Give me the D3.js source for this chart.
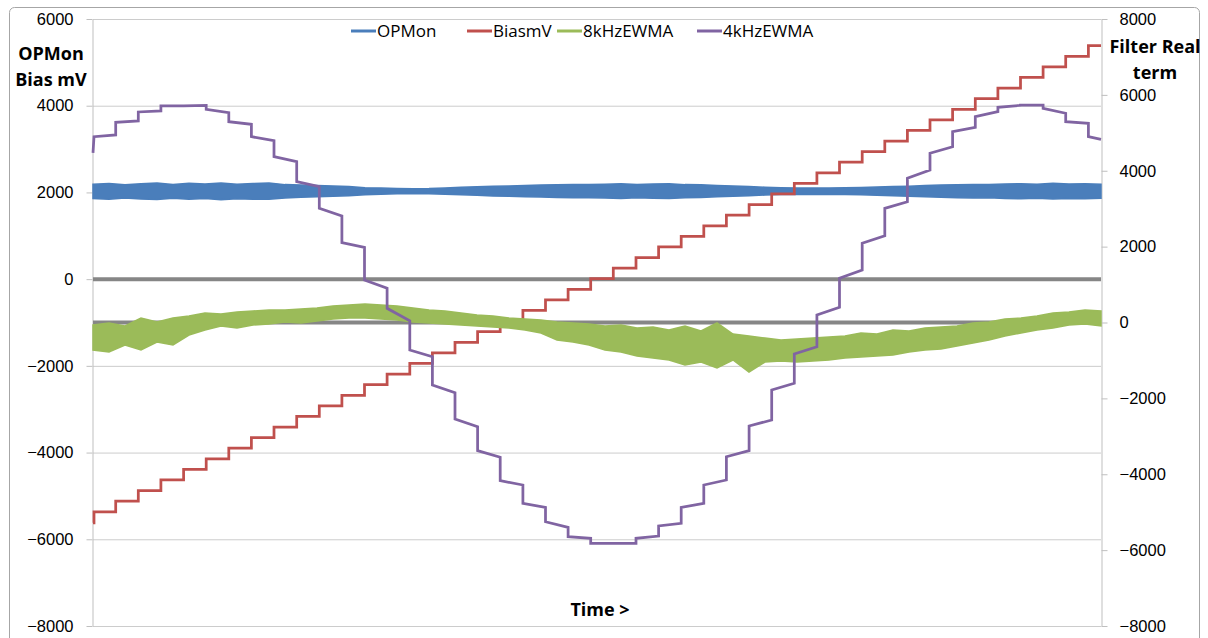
<!DOCTYPE html>
<html>
<head>
<meta charset="utf-8">
<script src="https://cdn.jsdelivr.net/npm/d3@7"></script>
<style>
  body { margin: 0; background: #fff; }
  svg { font-family: 'Open Sans', 'Liberation Sans', sans-serif; }
  .axis text { font-size: 16.5px; fill: #000; }
  .axis path { stroke: #bfbfbf; }
  .axis line { stroke: #bfbfbf; }
  .title { font-size: 18px; font-weight: bold; fill: #000; }
  .legend text { font-size: 17px; fill: #000; }
</style>
</head>
<body>
<div id="chart"></div>
<script>
// ---- data ----
// time units, 0 .. 1008 across the plot
let stepTimes = [22.7, 45.3, 67.9, 90.6, 113.2, 135.8, 158.4, 181.0, 203.7, 226.3, 248.9, 271.5,
  294.1, 316.8, 339.4, 362.0, 384.6, 407.2, 429.9, 452.5, 475.1, 497.7, 520.3, 543.0, 565.6,
  588.2, 610.8, 633.4, 656.1, 678.7, 701.3, 723.9, 746.5, 769.2, 791.8, 814.4, 837.0, 859.6,
  882.3, 904.9, 927.5, 950.1, 972.7, 995.4]
let endTime = 1008

// BiasmV level of each step (left axis)
let biasFirst = -5620
let biasLevels = [-5365, -5121, -4876, -4632, -4388, -4143, -3899, -3655, -3411, -3166, -2922,
  -2678, -2433, -2189, -1945, -1700, -1456, -1212, -968, -723, -479, -235, 10, 254, 498, 743,
  987, 1231, 1475, 1720, 1964, 2208, 2453, 2697, 2941, 3185, 3430, 3674, 3918, 4163, 4407,
  4651, 4895, 5140, 5384]

// 4kHzEWMA value at start and end of each step (right axis)
let filtFirst = 4470
let filtStart = [4898, 5277, 5549, 5707, 5707, 5620, 5293, 4898, 4370, 3711, 3010, 2104, 1120,
  374, -725, -1648, -2544, -3379, -4170, -4766, -5251, -5646, -5820, -5820, -5688, -5364,
  -4871, -4284, -3538, -2728, -1779, -830, 198, 1165, 2088, 3010, 3801, 4460, 5030, 5425,
  5673, 5733, 5646, 5293, 4898]
let filtEnd = [4943, 5312, 5575, 5707, 5720, 5530, 5225, 4792, 4239, 3580, 2807, 1982, 902, 47,
  -902, -1850, -2747, -3553, -4284, -4871, -5399, -5688, -5820, -5820, -5628, -5293, -4766,
  -4152, -3379, -2570, -1603, -638, 401, 1384, 2288, 3184, 4020, 4634, 5146, 5557, 5725,
  5733, 5515, 5251, 4829]

// noisy series: top and bottom of the band at sample times
let noiseTimes = [0, 16, 32, 48, 64, 80, 96, 112, 128, 144, 160, 176, 192, 208, 224, 240, 256,
  272, 288, 304, 320, 336, 352, 368, 384, 400, 416, 432, 448, 464, 480, 496, 512, 528, 544,
  560, 576, 592, 608, 624, 640, 656, 672, 688, 704, 720, 736, 752, 768, 784, 800, 816, 832,
  848, 864, 880, 896, 912, 928, 944, 960, 976, 992, 1008]

let opmonHi = [2190, 2205, 2180, 2200, 2215, 2185, 2210, 2195, 2220, 2190, 2205, 2215, 2180,
  2170, 2160, 2150, 2135, 2110, 2100, 2090, 2085, 2090, 2105, 2120, 2130, 2145, 2150, 2160,
  2170, 2175, 2185, 2180, 2190, 2200, 2185, 2195, 2200, 2180, 2175, 2160, 2150, 2135, 2120,
  2110, 2100, 2105, 2100, 2110, 2115, 2125, 2135, 2145, 2160, 2170, 2175, 2185, 2180, 2195,
  2200, 2190, 2210, 2195, 2200, 2190]
let opmonLo = [1860, 1845, 1870, 1850, 1835, 1865, 1845, 1860, 1830, 1855, 1845, 1840, 1870,
  1890, 1900, 1910, 1925, 1945, 1960, 1970, 1975, 1970, 1960, 1945, 1935, 1920, 1910, 1900,
  1895, 1885, 1880, 1875, 1870, 1860, 1875, 1865, 1860, 1875, 1885, 1900, 1910, 1925, 1940,
  1950, 1960, 1955, 1960, 1950, 1945, 1935, 1925, 1910, 1900, 1890, 1880, 1870, 1875, 1860,
  1855, 1865, 1850, 1860, 1855, 1865]

let ewma8Hi = [-66, -13, -92, 119, 13, 119, 171, 250, 224, 277, 303, 330, 330, 356, 382, 435,
  461, 488, 461, 435, 382, 330, 303, 250, 198, 171, 119, 92, 66, 13, -13, -40, -92, -66, -145,
  -119, -198, -92, -224, -13, -303, -356, -409, -461, -435, -409, -382, -356, -277, -303,
  -198, -224, -145, -119, -92, -13, 13, 92, 119, 171, 250, 277, 330, 303]
let ewma8Lo = [-725, -778, -593, -725, -514, -593, -330, -198, -92, -145, -66, -40, 13, -13, 40,
  92, 119, 119, 92, 66, 13, -13, -40, -66, -92, -119, -145, -198, -277, -461, -514, -593,
  -725, -778, -883, -936, -989, -1120, -1041, -1199, -989, -1305, -1041, -1015, -1041, -1015,
  -989, -936, -909, -883, -857, -778, -725, -699, -619, -540, -461, -356, -277, -198, -145,
  -66, -40, -92]

let leftTicks = [-8000, -6000, -4000, -2000, 0, 2000, 4000, 6000]
let rightTicks = [-8000, -6000, -4000, -2000, 0, 2000, 4000, 6000, 8000]
let seriesNames = ['OPMon', 'BiasmV', '8kHzEWMA', '4kHzEWMA']
let seriesColors = ['#4a7ebb', '#c0504d', '#9bbb59', '#8064a2']

// ---- layout ----
let margin = { top: 19, left: 93, right: 107, bottom: 12 }
let fullWidth = 1208
let fullHeight = 638
let width = fullWidth - margin.left - margin.right
let height = 626 - margin.top

let svg = d3
  .select('#chart')
  .append('svg')
  .attr('width', fullWidth)
  .attr('height', fullHeight)

// chart area border
svg
  .append('rect')
  .attr('x', 9.5)
  .attr('y', 7.5)
  .attr('width', 1190)
  .attr('height', 700)
  .attr('rx', 5)
  .attr('fill', '#fff')
  .attr('stroke', '#a6a6a6')

let g = svg
  .append('g')
  .attr('transform', 'translate(' + margin.left + ',' + margin.top + ')')

let xScale = d3.scaleLinear().domain([0, endTime]).range([0, width])
let yLeft = d3.scaleLinear().domain([-8000, 6000]).range([height, 0])
let yRight = d3.scaleLinear().domain([-8000, 8000]).range([height, 0])

// gridlines
g.append('g')
  .attr('class', 'grid')
  .call(d3.axisLeft(yLeft).tickValues(leftTicks).tickSize(-width).tickFormat(''))
  .call(s => s.select('.domain').remove())
  .selectAll('line')
  .attr('stroke', '#cccccc')

// left axis
g.append('g')
  .attr('class', 'axis')
  .attr('transform', 'translate(-0.5,0)')
  .call(d3.axisLeft(yLeft).tickValues(leftTicks).tickFormat(d3.format('d'))
    .tickSize(6).tickPadding(13).tickSizeOuter(0))

// right axis
g.append('g')
  .attr('class', 'axis')
  .attr('transform', 'translate(' + (width + 0.5) + ',0)')
  .call(d3.axisRight(yRight).tickValues(rightTicks).tickFormat(d3.format('d'))
    .tickSize(6).tickPadding(12).tickSizeOuter(0))

// zero lines of both axes
g.append('line')
  .attr('x1', 0)
  .attr('x2', width)
  .attr('y1', yLeft(0))
  .attr('y2', yLeft(0))
  .attr('stroke', '#868686')
  .attr('stroke-width', 4)
g.append('line')
  .attr('x1', 0)
  .attr('x2', width)
  .attr('y1', yRight(0))
  .attr('y2', yRight(0))
  .attr('stroke', '#868686')
  .attr('stroke-width', 4)

// build step series
let stepStarts = [0].concat(stepTimes)
let stepEnds = stepTimes.concat([endTime])

let biasPoints = [[0, biasFirst]]
biasLevels.forEach(function(v, i) {
  biasPoints.push([i === 0 ? 1 : stepStarts[i], v])
})
biasPoints.push([endTime, biasLevels[biasLevels.length - 1]])

let filtPoints = [[0, filtFirst]]
filtStart.forEach(function(v, i) {
  filtPoints.push([i === 0 ? 1 : stepStarts[i], v])
  filtPoints.push([stepEnds[i], filtEnd[i]])
})

let bandLeft = d3
  .area()
  .x(function(d, i) { return xScale(noiseTimes[i]) })
  .y0(function(d) { return yLeft(d[1]) })
  .y1(function(d) { return yLeft(d[0]) })

let bandRight = d3
  .area()
  .x(function(d, i) { return xScale(noiseTimes[i]) })
  .y0(function(d) { return yRight(d[1]) })
  .y1(function(d) { return yRight(d[0]) })

// OPMon
g.append('path')
  .datum(opmonHi.map(function(v, i) { return [v, opmonLo[i]] }))
  .attr('d', bandLeft)
  .attr('fill', seriesColors[0])
  .attr('stroke', seriesColors[0])
  .attr('stroke-width', 1.5)

// BiasmV
g.append('path')
  .datum(biasPoints)
  .attr('d', d3.line()
    .x(function(d) { return xScale(d[0]) })
    .y(function(d) { return yLeft(d[1]) })
    .curve(d3.curveStepAfter))
  .attr('fill', 'none')
  .attr('stroke', seriesColors[1])
  .attr('stroke-width', 2.75)

// 8kHzEWMA
g.append('path')
  .datum(ewma8Hi.map(function(v, i) { return [v, ewma8Lo[i]] }))
  .attr('d', bandRight)
  .attr('fill', seriesColors[2])
  .attr('stroke', seriesColors[2])
  .attr('stroke-width', 1.5)

// 4kHzEWMA
g.append('path')
  .datum(filtPoints)
  .attr('d', d3.line()
    .x(function(d) { return xScale(d[0]) })
    .y(function(d) { return yRight(d[1]) }))
  .attr('fill', 'none')
  .attr('stroke', seriesColors[3])
  .attr('stroke-width', 2.75)

// axis titles
svg.append('text').attr('class', 'title').attr('x', 51).attr('y', 60)
  .attr('text-anchor', 'middle').text('OPMon')
svg.append('text').attr('class', 'title').attr('x', 51).attr('y', 86)
  .attr('text-anchor', 'middle').text('Bias mV')
svg.append('text').attr('class', 'title').attr('x', 1155).attr('y', 53)
  .attr('text-anchor', 'middle').text('Filter Real')
svg.append('text').attr('class', 'title').attr('x', 1155).attr('y', 79)
  .attr('text-anchor', 'middle').text('term')
svg.append('text').attr('class', 'title').attr('x', 600).attr('y', 616)
  .attr('text-anchor', 'middle').text('Time >')

// legend
let legendX = [351, 467, 557, 697]
let legend = svg
  .append('g')
  .attr('class', 'legend')
  .selectAll('g')
  .data(seriesNames)
  .enter()
  .append('g')
  .attr('transform', function(d, i) { return 'translate(' + legendX[i] + ',31)' })

legend
  .append('line')
  .attr('x1', 0)
  .attr('x2', 25)
  .attr('stroke', function(d, i) { return seriesColors[i] })
  .attr('stroke-width', 3)

legend
  .append('text')
  .attr('x', 26)
  .attr('y', 6)
  .text(function(d) { return d })
</script>
</body>
</html>
